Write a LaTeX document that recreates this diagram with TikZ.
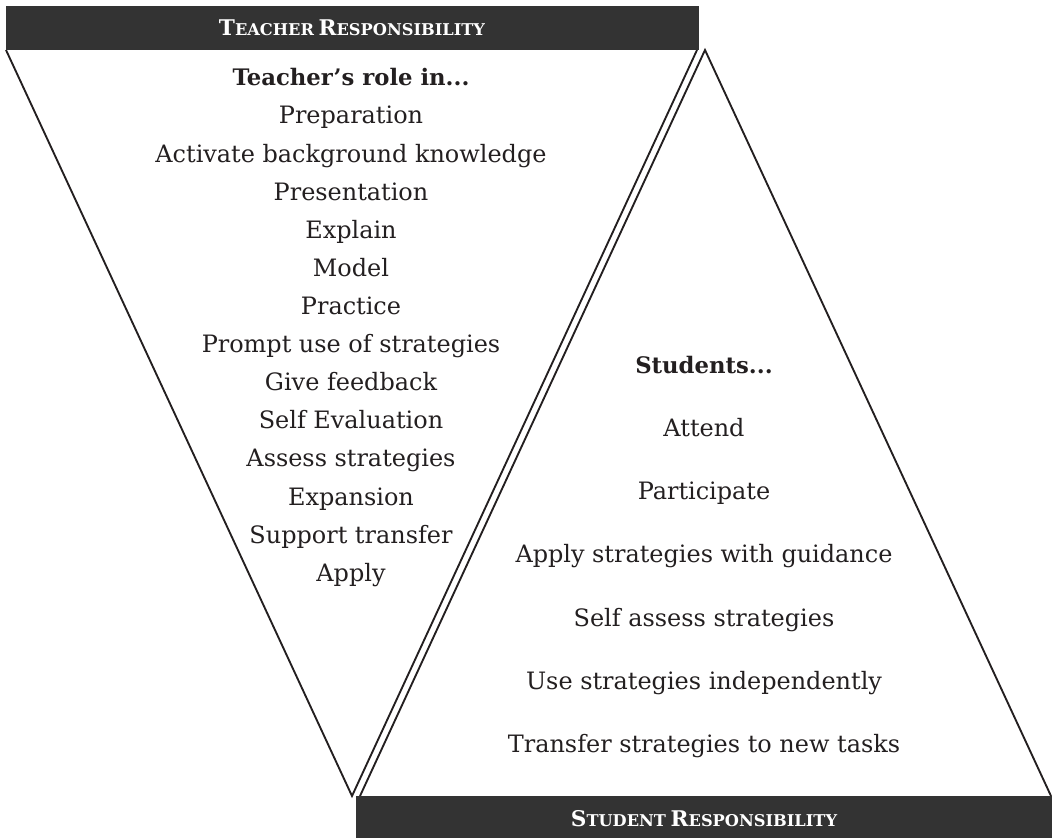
\documentclass[tikz,border=0pt]{standalone}
\usepackage{fontspec}
\setmainfont{DejaVu Serif}
\definecolor{barcol}{HTML}{333333}
\definecolor{ink}{HTML}{231F20}
\newlength\calw
\def\hsz{10}\def\ssz{7.5}\def\itemsz{10}\def\headsz{10}
\newcommand\capsc[2]{{\fontsize{\hsz}{18}\selectfont #1}{\fontsize{\ssz}{14}\selectfont #2}}
\tikzset{
  tri/.style={draw=ink, line width=1.4pt, line join=miter},
  bar/.style={fill=barcol, draw=none},
  bartext/.style={text=white, font=\bfseries, anchor=base, inner sep=0pt},
  item/.style={text=ink, font=\fontsize{\itemsz}{16}\selectfont, anchor=base, inner sep=0pt},
  head/.style={text=ink, font=\fontsize{\headsz}{18}\selectfont\bfseries, anchor=base, inner sep=0pt},
}
\begin{document}
\normalfont
% calibrate sizes to the measured widths of the reference texts
\settowidth\calw{\fontsize{10}{12}\selectfont Apply strategies with guidance}%
\pgfmathsetmacro\itemsz{10*282.75/\calw}%
\settowidth\calw{\fontsize{10}{12}\selectfont\bfseries Teacher's role in...}%
\pgfmathsetmacro\headsz{10*177.75/\calw}%
\settowidth\calw{\bfseries\capsc{T}{EACHER} \capsc{R}{ESPONSIBILITY}}%
\pgfmathsetmacro\hsz{10*201.75/\calw}%
\pgfmathsetmacro\ssz{0.75*\hsz}%
\begin{tikzpicture}[x=0.75pt,y=-0.75pt]
\useasboundingbox (0,0) rectangle (1052,838);
% corners of the two triangles
\coordinate (tl) at (6,50);
\coordinate (tr) at (697,50);
\coordinate (tapex) at (352,796);
\coordinate (sapex) at (705,50);
\coordinate (sl) at (360,796);
\coordinate (sr) at (1051,796);
\draw[tri] (tl) -- (tapex) -- (tr);
\draw[tri] (sl) -- (sapex) -- (sr);
% bars
\fill[bar] (6,6) rectangle (699,50);
\fill[bar] (356,796) rectangle (1052,838);
\node[bartext] (thead) at (352,36) {\capsc{T}{EACHER} \capsc{R}{ESPONSIBILITY}};
\node[bartext] (shead) at (704,826) {\capsc{S}{TUDENT} \capsc{R}{ESPONSIBILITY}};
% teacher column
\node[head] (trole) at (351,86) {Teacher's role in...};
\foreach \t [count=\i from 0] in {Preparation,Activate background knowledge,Presentation,Explain,Model,Practice,Prompt use of strategies,Give feedback,Self Evaluation,Assess strategies,Expansion,Support transfer,Apply}{
  \node[item] (t\i) at (351,124+\i*38.1) {\t};
}
% student column
\node[head] (srole) at (704,373) {Students...};
\foreach \t [count=\i from 0] in {Attend,Participate,Apply strategies with guidance,Self assess strategies,Use strategies independently,Transfer strategies to new tasks}{
  \node[item] (s\i) at (704,436.3+\i*63.3) {\t};
}
\end{tikzpicture}
\end{document}
